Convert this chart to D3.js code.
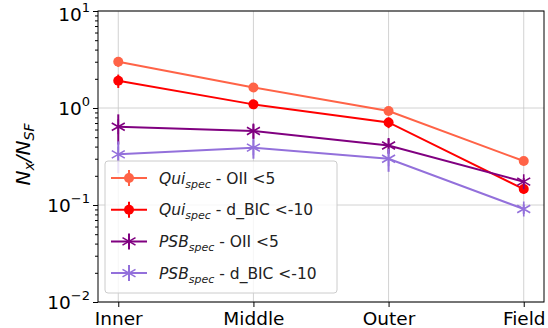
<!DOCTYPE html>
<html>
<head>
<meta charset="utf-8">
<script src="https://cdn.jsdelivr.net/npm/d3@7"></script>
<style>
  html, body { margin: 0; padding: 0; background: #fff; }
  svg { display: block; font-family: "DejaVu Sans", sans-serif; }
</style>
</head>
<body>
<svg id="chart" width="548" height="328"></svg>
<script>
// Environment categories along the x axis
const categories = ["Inner", "Middle", "Outer", "Field"];

// Ratio N_x / N_SF per environment, with symmetric errors
const quiOII      = [3.0, 1.63, 0.93, 0.284];
const quiOIIErr   = [0.35, 0.12, 0.07, 0.02];
const quiBIC      = [1.91, 1.09, 0.71, 0.146];
const quiBICErr   = [0.3, 0.08, 0.09, 0.015];
const psbOII      = [0.64, 0.58, 0.41, 0.174];
const psbOIIErr   = [0.22, 0.1, 0.075, 0.015];
const psbBIC      = [0.333, 0.39, 0.30, 0.091];
const psbBICErr   = [0.12, 0.09, 0.08, 0.01];

const yTickExps = [1, 0, -1, -2];

const series = [
  { base: "Qui", tail: " - OII <5",      values: quiOII, errs: quiOIIErr, color: "#ff6347", marker: "circle" },
  { base: "Qui", tail: " - d_BIC <-10",  values: quiBIC, errs: quiBICErr, color: "#ff0000", marker: "circle" },
  { base: "PSB", tail: " - OII <5",      values: psbOII, errs: psbOIIErr, color: "#800080", marker: "star" },
  { base: "PSB", tail: " - d_BIC <-10",  values: psbBIC, errs: psbBICErr, color: "#9370db", marker: "star" }
];

const svg = d3.select("#chart");
const plot = { left: 98, right: 544, top: 11, bottom: 302 };

const x = d3.scalePoint().domain(categories).range([plot.left, plot.right]).padding(0.15);
const y = d3.scaleLog().domain([0.01, 10]).range([plot.bottom, plot.top]);

// Grid
const grid = svg.append("g").attr("stroke", "#b0b0b0").attr("stroke-width", 0.8).attr("opacity", 0.7);
categories.forEach(c => grid.append("line")
  .attr("x1", x(c)).attr("x2", x(c)).attr("y1", plot.top).attr("y2", plot.bottom));
yTickExps.forEach(e => grid.append("line")
  .attr("x1", plot.left).attr("x2", plot.right).attr("y1", y(Math.pow(10, e))).attr("y2", y(Math.pow(10, e))));

// Asterisk marker path (six arms)
function starPath(r) {
  let p = "";
  for (let i = 0; i < 3; i++) {
    const a = Math.PI / 2 + i * Math.PI / 3;
    const dx = r * Math.cos(a), dy = r * Math.sin(a);
    p += `M${-dx},${-dy}L${dx},${dy}`;
  }
  return p;
}

function drawMarker(g, s, cx, cy) {
  if (s.marker === "circle") {
    g.append("circle").attr("cx", cx).attr("cy", cy).attr("r", 5).attr("fill", s.color);
  } else {
    g.append("path").attr("d", starPath(7.5)).attr("transform", `translate(${cx},${cy})`)
      .attr("stroke", s.color).attr("stroke-width", 1.6).attr("fill", "none");
  }
}

const line = d3.line().x(d => x(d.c)).y(d => y(d.v));

series.forEach(s => {
  const g = svg.append("g");
  const pts = categories.map((c, i) => ({ c, v: s.values[i], e: s.errs[i] }));
  g.append("path").datum(pts).attr("d", line)
    .attr("fill", "none").attr("stroke", s.color).attr("stroke-width", 2);
  pts.forEach(p => {
    g.append("line").attr("x1", x(p.c)).attr("x2", x(p.c))
      .attr("y1", y(p.v + p.e)).attr("y2", y(Math.max(p.v - p.e, 1e-3)))
      .attr("stroke", s.color).attr("stroke-width", 2);
    drawMarker(g, s, x(p.c), y(p.v));
  });
});

// Axes frame
svg.append("rect").attr("x", plot.left).attr("y", plot.top)
  .attr("width", plot.right - plot.left).attr("height", plot.bottom - plot.top)
  .attr("fill", "none").attr("stroke", "#000").attr("stroke-width", 1);

// X axis
const xAxis = svg.append("g").attr("transform", `translate(0,${plot.bottom})`)
  .call(d3.axisBottom(x).tickSize(5).tickPadding(5));
xAxis.select(".domain").remove();
xAxis.selectAll("text").attr("font-size", "18.5px").attr("fill", "#000")
  .attr("font-family", "DejaVu Sans, sans-serif");

// Y axis: major ticks at decades, minor ticks between
const minor = [];
for (let e = -2; e < 1; e++) for (let k = 2; k <= 9; k++) minor.push(k * Math.pow(10, e));
const yAxisMinor = svg.append("g").attr("transform", `translate(${plot.left},0)`)
  .call(d3.axisLeft(y).tickValues(minor).tickSize(3).tickFormat(""));
yAxisMinor.select(".domain").remove();

const yAxis = svg.append("g").attr("transform", `translate(${plot.left},0)`)
  .call(d3.axisLeft(y).tickValues(yTickExps.map(e => Math.pow(10, e))).tickSize(5).tickFormat(""));
yAxis.select(".domain").remove();

yTickExps.forEach(e => {
  // keep the top label (and its exponent) inside the canvas
  const base = Math.max(y(Math.pow(10, e)) + 7, 21);
  const t = svg.append("text").attr("x", plot.left - 8).attr("y", base)
    .attr("text-anchor", "end").attr("font-size", "18.5px").attr("fill", "#000");
  t.append("tspan").text("10");
  t.append("tspan").attr("dy", -9).attr("font-size", "13px").text(e < 0 ? "\u2212" + (-e) : String(e));
});

// Y label
const yl = svg.append("text")
  .attr("transform", `translate(30,${(plot.top + plot.bottom) / 2 - 2}) rotate(-90)`)
  .attr("text-anchor", "middle").attr("font-size", "20px").attr("font-style", "italic").attr("fill", "#000");
yl.append("tspan").text("N");
yl.append("tspan").attr("font-size", "14px").attr("dy", 4).text("x");
yl.append("tspan").attr("dy", -4).text("/N");
yl.append("tspan").attr("font-size", "14px").attr("dy", 4).text("SF");

// Legend
const leg = svg.append("g");
leg.append("rect").attr("x", 105).attr("y", 161).attr("width", 232).attr("height", 132)
  .attr("rx", 3).attr("fill", "#fff").attr("fill-opacity", 0.8)
  .attr("stroke", "#cccccc").attr("stroke-width", 1);
series.forEach((s, i) => {
  const cy = 178 + i * 31.7;
  leg.append("line").attr("x1", 111).attr("x2", 147).attr("y1", cy).attr("y2", cy)
    .attr("stroke", s.color).attr("stroke-width", 2);
  leg.append("line").attr("x1", 129).attr("x2", 129).attr("y1", cy - 8).attr("y2", cy + 8)
    .attr("stroke", s.color).attr("stroke-width", 2);
  drawMarker(leg, s, 129, cy);
  const t = leg.append("text").attr("x", 159).attr("y", cy + 5.5)
    .attr("font-size", "15.5px").attr("fill", "#222");
  t.append("tspan").attr("font-style", "italic").text(s.base);
  t.append("tspan").attr("font-style", "italic").attr("font-size", "11px").attr("dy", 4).text("spec");
  t.append("tspan").attr("dy", -4).text(s.tail);
});
</script>
</body>
</html>
